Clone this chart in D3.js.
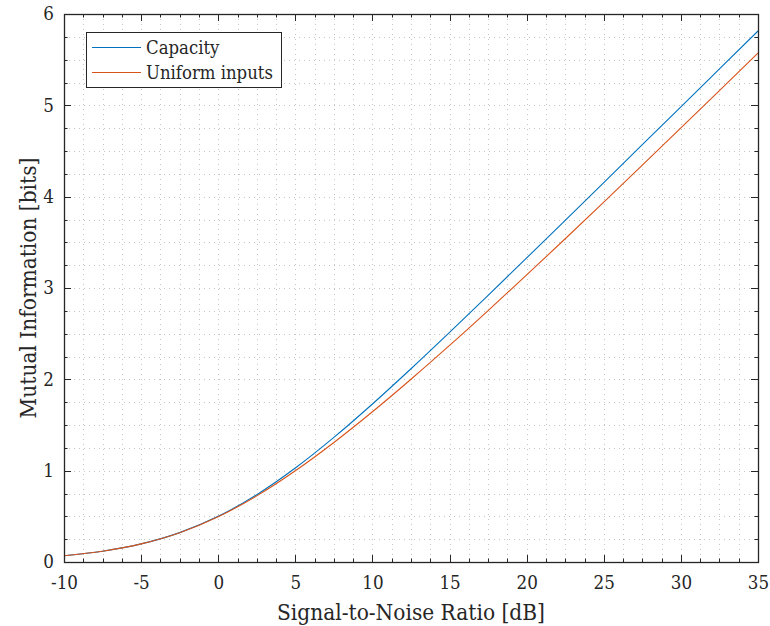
<!DOCTYPE html>
<html>
<head>
<meta charset="utf-8">
<script src="https://cdn.jsdelivr.net/npm/d3@7/dist/d3.min.js"></script>
<style>
  html, body { margin: 0; padding: 0; background: #fff; }
  svg { display: block; }
  svg text { font-family: "DejaVu Serif Condensed", "DejaVu Serif", serif; font-stretch: condensed; }
</style>
</head>
<body>
<svg id="chart" width="770" height="626"></svg>
<script>
// Signal-to-noise ratio grid (dB)
const snrDb = [-10, -7.5, -5, -2.5, 0, 2.5, 5, 7.5, 10, 12.5, 15, 17.5, 20, 22.5, 25, 27.5, 30, 32.5, 35];
// Mutual information in bits for Gaussian inputs (capacity)
const capacity = [0.0688, 0.1180, 0.1982, 0.3218, 0.5000, 0.7371, 1.0287, 1.3638, 1.7297, 2.1157, 2.5139, 2.9194, 3.3291, 3.7412, 4.1547, 4.5689, 4.9836, 5.3986, 5.8137];
// Mutual information in bits for uniformly distributed inputs
const uniformInputs = [0.0688, 0.1180, 0.1981, 0.3208, 0.4955, 0.7240, 0.9990, 1.3090, 1.6450, 2.0010, 2.3710, 2.7530, 3.1430, 3.5391, 3.9402, 4.3448, 4.7521, 5.1615, 5.5723];

const seriesNames = ["Capacity", "Uniform inputs"];
const seriesColors = ["#0072BD", "#D95319"];

const xTickValues = [-10, -5, 0, 5, 10, 15, 20, 25, 30, 35];
const yTickValues = [0, 1, 2, 3, 4, 5, 6];
const xMinorStep = 1.25;
const yMinorStep = 0.25;

const xLabel = "Signal-to-Noise Ratio [dB]";
const yLabel = "Mutual Information [bits]";

const plot = { left: 64, right: 758, top: 14, bottom: 562 };
const axisColor = "#262626";
const gridColor = "#c4c4c4";

const svg = d3.select("#chart");

// Scale a text node's font size so that it spans the wanted width.
function fitWidth(sel, width) {
  const node = sel.node();
  const fs = parseFloat(sel.style("font-size"));
  const w = node.getComputedTextLength();
  if (w > 0) sel.style("font-size", (fs * width / w).toFixed(2) + "px");
  return sel;
}

const x = d3.scaleLinear().domain([-10, 35]).range([plot.left, plot.right]);
const y = d3.scaleLinear().domain([0, 6]).range([plot.bottom, plot.top]);

const xMinor = d3.range(-10, 35 + 1e-9, xMinorStep);
const yMinor = d3.range(0, 6 + 1e-9, yMinorStep);

// Dotted grid (major and minor share the style)
const grid = svg.append("g").attr("class", "grid")
  .attr("stroke", gridColor).attr("stroke-width", 1)
  .attr("stroke-dasharray", "1,4");

grid.selectAll("line.gx").data(xMinor).join("line")
  .attr("class", "gx")
  .attr("x1", d => Math.round(x(d)) + 0.5).attr("x2", d => Math.round(x(d)) + 0.5)
  .attr("y1", plot.top).attr("y2", plot.bottom);

grid.selectAll("line.gy").data(yMinor).join("line")
  .attr("class", "gy")
  .attr("y1", d => Math.round(y(d)) + 0.5).attr("y2", d => Math.round(y(d)) + 0.5)
  .attr("x1", plot.left).attr("x2", plot.right);

// Data lines
const line = d3.line().curve(d3.curveMonotoneX);
const series = [capacity, uniformInputs];
svg.append("g").attr("class", "series")
  .selectAll("path").data(series).join("path")
  .attr("fill", "none")
  .attr("stroke", (d, i) => seriesColors[i])
  .attr("stroke-width", 1.1)
  .attr("d", vals => line(vals.map((v, k) => [x(snrDb[k]), y(v)])));

// Axes: bottom/left carry the labels, ticks drawn inward on all sides
const majorLen = 7, minorLen = 3.5;

const xAxisBottom = d3.axisBottom(x).tickValues(xTickValues).tickSize(0).tickPadding(14)
  .tickFormat(d => String(d));
const yAxisLeft = d3.axisLeft(y).tickValues(yTickValues).tickSize(0).tickPadding(10)
  .tickFormat(d => String(d));

const gxb = svg.append("g").attr("transform", `translate(0,${plot.bottom})`).call(xAxisBottom);
const gyl = svg.append("g").attr("transform", `translate(${plot.left},0)`).call(yAxisLeft);
[gxb, gyl].forEach(g => {
  g.attr("font-family", null).attr("font-size", null);
  g.select(".domain").remove();
  g.selectAll("text").attr("fill", axisColor).style("font-size", "20px");
});
gxb.selectAll("text").attr("dy", "0.71em").attr("y", 14);

// tick label size, set from the width of "-10"
{
  const probe = gxb.selectAll("text").filter(d => d === -10);
  fitWidth(probe, 27);
  const fs = probe.style("font-size");
  gxb.selectAll("text").style("font-size", fs);
  gyl.selectAll("text").style("font-size", fs);
}

const ticks = svg.append("g").attr("stroke", axisColor).attr("stroke-width", 1);
xTickValues.forEach(v => {
  const px = Math.round(x(v)) + 0.5;
  ticks.append("line").attr("x1", px).attr("x2", px).attr("y1", plot.bottom).attr("y2", plot.bottom - majorLen);
  ticks.append("line").attr("x1", px).attr("x2", px).attr("y1", plot.top).attr("y2", plot.top + majorLen);
});
yTickValues.forEach(v => {
  const py = Math.round(y(v)) + 0.5;
  ticks.append("line").attr("y1", py).attr("y2", py).attr("x1", plot.left).attr("x2", plot.left + majorLen);
  ticks.append("line").attr("y1", py).attr("y2", py).attr("x1", plot.right).attr("x2", plot.right - majorLen);
});
xMinor.forEach(v => {
  const px = Math.round(x(v)) + 0.5;
  ticks.append("line").attr("x1", px).attr("x2", px).attr("y1", plot.bottom).attr("y2", plot.bottom - minorLen);
  ticks.append("line").attr("x1", px).attr("x2", px).attr("y1", plot.top).attr("y2", plot.top + minorLen);
});
yMinor.forEach(v => {
  const py = Math.round(y(v)) + 0.5;
  ticks.append("line").attr("y1", py).attr("y2", py).attr("x1", plot.left).attr("x2", plot.left + minorLen);
  ticks.append("line").attr("y1", py).attr("y2", py).attr("x1", plot.right).attr("x2", plot.right - minorLen);
});

// Box
svg.append("rect")
  .attr("x", plot.left + 0.5).attr("y", plot.top + 0.5)
  .attr("width", plot.right - plot.left).attr("height", plot.bottom - plot.top)
  .attr("fill", "none").attr("stroke", axisColor).attr("stroke-width", 1.3);

// Axis titles
const xTitle = svg.append("text")
  .attr("x", (plot.left + plot.right) / 2).attr("y", 620)
  .attr("text-anchor", "middle").attr("fill", axisColor)
  .style("font-size", "24px").text(xLabel);
fitWidth(xTitle, 268);

const yTitle = svg.append("text")
  .attr("transform", `translate(36,${(plot.top + plot.bottom) / 2}) rotate(-90)`)
  .attr("text-anchor", "middle").attr("fill", axisColor)
  .style("font-size", xTitle.style("font-size")).text(yLabel);

// Legend
const legend = svg.append("g").attr("class", "legend");
legend.append("rect")
  .attr("x", 86.5).attr("y", 32.5).attr("width", 195).attr("height", 55)
  .attr("fill", "#fff").attr("stroke", axisColor).attr("stroke-width", 1);
const rowY = [47.5, 72.5];
const legendTexts = seriesNames.map((name, i) => {
  legend.append("line")
    .attr("x1", 92).attr("x2", 141).attr("y1", rowY[i]).attr("y2", rowY[i])
    .attr("stroke", seriesColors[i]).attr("stroke-width", 1.1);
  return legend.append("text")
    .attr("x", 146).attr("y", rowY[i]).attr("dy", "0.33em")
    .attr("fill", axisColor).style("font-size", "20px").text(name);
});
fitWidth(legendTexts[1], 127);
legendTexts[0].style("font-size", legendTexts[1].style("font-size"));
</script>
</body>
</html>
